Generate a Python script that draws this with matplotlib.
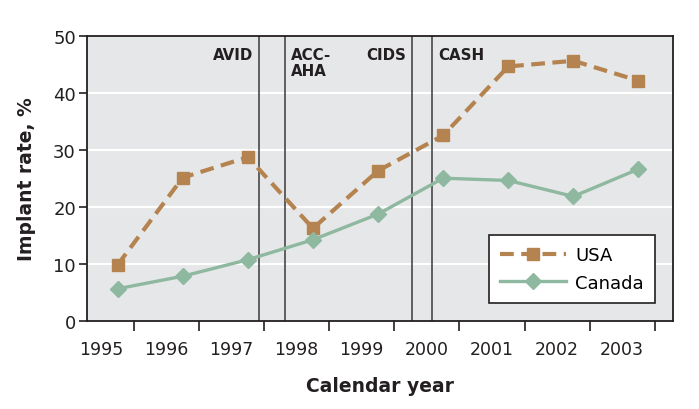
import numpy as np
import matplotlib.pyplot as plt

# data (points sit late in each year bin)
years = [1995, 1996, 1997, 1998, 1999, 2000, 2001, 2002, 2003]
usa = [9.8, 25.1, 28.7, 16.2, 26.3, 32.5, 44.6, 45.6, 42.1]
canada = [5.6, 7.8, 10.7, 14.2, 18.7, 25.0, 24.6, 21.8, 26.6]

trials = ["AVID", "ACC-\nAHA", "CIDS", "CASH"]
trial_pos = [1997.92, 1998.32, 2000.27, 2000.58]
trial_side = ["left", "right", "left", "right"]

usa_col = "#b5834f"
can_col = "#8fb8a0"
ink = "#231f20"

x = np.array(years) + 0.75

fig = plt.figure(figsize=(6.99, 4.10), dpi=100)
ax = fig.add_axes([0.1245, 0.2154, 0.8383, 0.6951])
ax.set_facecolor("#e6e7e8")

for yv in [10, 20, 30, 40]:
    ax.axhline(yv, color="white", lw=1.5, zorder=0)

for pos, name, side in zip(trial_pos, trials, trial_side):
    ax.axvline(pos, color="#3a3a3a", lw=1.1, zorder=1)
    if side == "left":
        ax.text(pos - 0.09, 48.0, name, ha="right", va="top", fontsize=10.8,
                fontweight="bold", color=ink, linespacing=1.1)
    else:
        ax.text(pos + 0.09, 48.0, name, ha="left", va="top", fontsize=10.8,
                fontweight="bold", color=ink, linespacing=1.1)

ax.plot(x, usa, color=usa_col, lw=3, ls=(0, (3.3, 1.8)), marker="s",
        markersize=9, label="USA", zorder=3)
ax.plot(x, canada, color=can_col, lw=2.4, marker="D", markersize=8.5,
        label="Canada", zorder=3)

ax.set_xlim(1995.28, 2004.28)
ax.set_ylim(0, 50)
ax.set_xticks(np.arange(1996, 2005))
ax.set_xticklabels([])
ax.set_xticks(np.array(years) + 0.5, minor=True)
ax.set_xticklabels([str(y) for y in years], minor=True)
ax.tick_params(axis="x", which="major", length=7, width=1.2, color=ink)
ax.tick_params(axis="x", which="minor", length=0, pad=14, labelsize=12.5,
               labelcolor=ink)
ax.set_yticks([0, 10, 20, 30, 40, 50])
ax.tick_params(axis="y", length=6, width=1.2, color=ink, labelsize=13,
               labelcolor=ink, pad=2)

for s in ax.spines.values():
    s.set_color(ink)
    s.set_linewidth(1.3)

ax.set_xlabel("Calendar year", fontsize=13.5, fontweight="bold", color=ink,
              labelpad=13)
ax.set_ylabel("Implant rate, %", fontsize=13.5, fontweight="bold", color=ink,
              labelpad=12)

leg = ax.legend(loc="lower right", fontsize=13, frameon=True, fancybox=False,
                edgecolor=ink, framealpha=1, handlelength=3.7,
                borderaxespad=1.0, labelspacing=0.55, borderpad=0.6,
                handletextpad=0.5)
leg.get_frame().set_linewidth(1.2)

fig.savefig("out.png", dpi=100)
